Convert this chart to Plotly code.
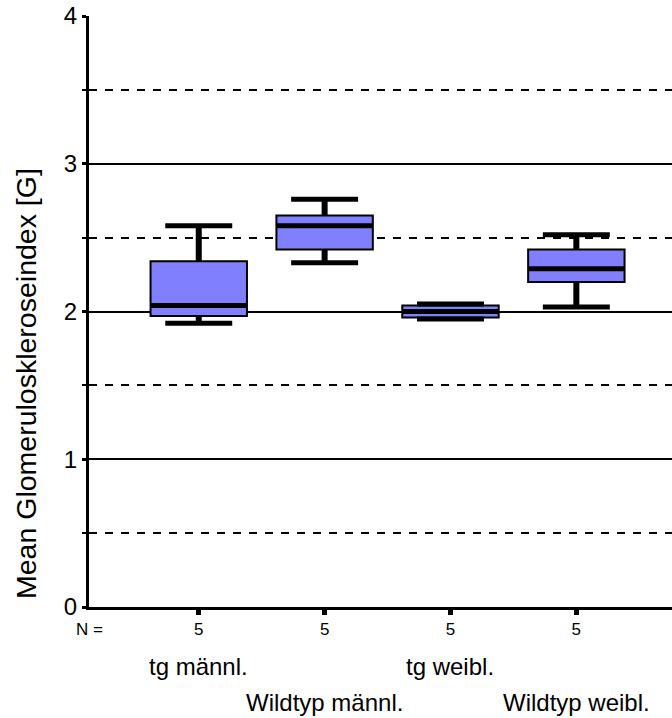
import plotly.graph_objects as go

# ---- data ----
categories = ["tg männl.", "Wildtyp männl.", "tg weibl.", "Wildtyp weibl."]
n_counts = [5, 5, 5, 5]
lower_whisker = [1.92, 2.33, 1.95, 2.03]
q1_vals = [1.97, 2.42, 1.96, 2.20]
median_vals = [2.04, 2.58, 2.00, 2.29]
q3_vals = [2.34, 2.65, 2.04, 2.42]
upper_whisker = [2.58, 2.76, 2.05, 2.52]
y_label = "Mean Glomeruloskleroseindex [G]"

FONT = "Liberation Sans, Arial, Helvetica, sans-serif"
BOX_W = 0.766
CAP_HALF = 0.266
positions = list(range(len(categories)))

fig = go.Figure()

fig.add_trace(go.Box(
    x=positions, q1=q1_vals, median=median_vals, q3=q3_vals,
    lowerfence=lower_whisker, upperfence=upper_whisker,
    width=BOX_W, whiskerwidth=0, fillcolor="#8080FF",
    line=dict(color="black", width=2), boxpoints=False,
    hoverinfo="skip", showlegend=False,
))

# thick whisker stems
sx, sy = [], []
for p, lo, a, b, hi in zip(positions, lower_whisker, q1_vals, q3_vals, upper_whisker):
    sx += [p, p, None, p, p, None]
    sy += [b, hi, None, a, lo, None]
fig.add_trace(go.Scatter(x=sx, y=sy, mode="lines", line=dict(color="black", width=6),
                         hoverinfo="skip", showlegend=False))

# caps
cx, cy = [], []
for p, lo, hi in zip(positions, lower_whisker, upper_whisker):
    cx += [p - CAP_HALF, p + CAP_HALF, None, p - CAP_HALF, p + CAP_HALF, None]
    cy += [hi, hi, None, lo, lo, None]
fig.add_trace(go.Scatter(x=cx, y=cy, mode="lines", line=dict(color="black", width=5),
                         hoverinfo="skip", showlegend=False))

# medians
mx, my = [], []
for p, m in zip(positions, median_vals):
    mx += [p - BOX_W / 2, p + BOX_W / 2, None]
    my += [m, m, None]
fig.add_trace(go.Scatter(x=mx, y=my, mode="lines", line=dict(color="black", width=5),
                         hoverinfo="skip", showlegend=False))

fig.update_layout(
    width=672, height=718,
    margin=dict(l=89, r=0, t=16, b=111),
    paper_bgcolor="white", plot_bgcolor="white",
    font=dict(family=FONT, color="black"),
    showlegend=False,
    xaxis=dict(
        range=[-0.872, 3.76], tickvals=positions, ticktext=[str(v) for v in n_counts],
        tickfont=dict(size=17), ticks="outside", ticklen=5, tickwidth=5, tickcolor="black",
        showline=True, linewidth=3, linecolor="black", showgrid=False, zeroline=False,
    ),
    yaxis=dict(
        range=[0, 4], tick0=0, dtick=1, tickfont=dict(size=24),
        ticks="outside", ticklen=4, tickwidth=3, tickcolor="black",
        showline=True, linewidth=3, linecolor="black",
        showgrid=True, gridcolor="black", gridwidth=2, zeroline=False,
        minor=dict(dtick=0.5, showgrid=True, griddash="8px,8px", gridcolor="black",
                   gridwidth=2, ticks="outside", ticklen=4, tickwidth=2, tickcolor="black"),
    ),
)

annotations = [
    dict(text=y_label, xref="paper", yref="paper", x=-(89 - 26) / 583, y=(607 - 384) / 591,
         xanchor="center", yanchor="middle", textangle=-90, showarrow=False,
         font=dict(size=28.5)),
    dict(text="N =", xref="paper", yref="paper", x=(89 - 89) / 583, y=(607 - 629) / 591,
         xanchor="center", yanchor="middle", showarrow=False, font=dict(size=17)),
]
for i, name in enumerate(categories):
    row_y = (607 - 666) / 591 if i % 2 == 0 else (607 - 702) / 591
    annotations.append(dict(text=name, xref="x", yref="paper", x=positions[i], y=row_y,
                            xanchor="center", yanchor="middle", showarrow=False,
                            font=dict(size=24)))
fig.update_layout(annotations=annotations)

fig.write_html("out.html")
